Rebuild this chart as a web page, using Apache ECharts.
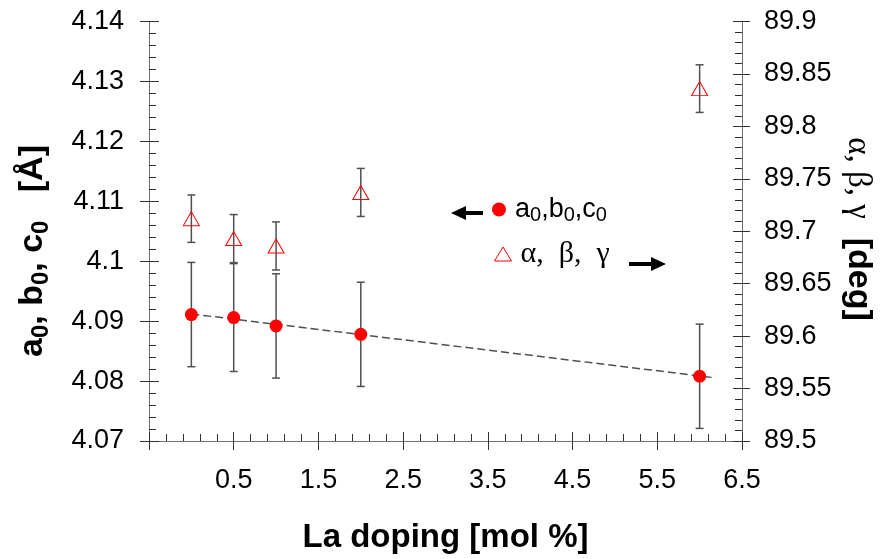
<!DOCTYPE html>
<html>
<head>
<meta charset="utf-8">
<script src="https://cdn.jsdelivr.net/npm/echarts@6/dist/echarts.min.js"></script>
<style>
  html, body { margin: 0; padding: 0; background: #ffffff; }
  #chart { width: 886px; height: 559px; }
</style>
</head>
<body>
<div id="chart"></div>
<script>
// La doping level (mol %)
const laDoping = [0, 0.5, 1, 2, 6];
// Lattice parameter a0 = b0 = c0 (Å) and its error
const latticeA = [4.0911, 4.0906, 4.0892, 4.0878, 4.0808];
const latticeErr = [0.0087, 0.0090, 0.0087, 0.0087, 0.0087];
// Cell angle α = β = γ (deg) and its error
const cellAngle = [89.712, 89.693, 89.686, 89.737, 89.836];
const angleErr = [0.0226, 0.0229, 0.0229, 0.0229, 0.0227];
// Linear trend of the lattice parameter (end points)
const trendX = [0, 6.15];
const trendY = [4.0912, 4.0806];
// Axis ticks and labels
const xTickValues = [-0.5, 0.5, 1.5, 2.5, 3.5, 4.5, 5.5, 6.5];
const xLabelValues = [0.5, 1.5, 2.5, 3.5, 4.5, 5.5, 6.5];
const leftRange = [4.07, 4.14];
const rightRange = [89.5, 89.9];

// minor x ticks: five divisions between neighbouring major ticks
const xMinorValues = [];
for (let i = 0; i < xTickValues.length - 1; i++) {
  const a = xTickValues[i], step = (xTickValues[i + 1] - a) / 5;
  for (let k = 1; k < 5; k++) xMinorValues.push(+(a + k * step).toFixed(3));
}

const SANS = 'Liberation Sans, Arial, sans-serif';
const SERIF = 'Liberation Serif, Times New Roman, serif';
const AXIS_LINE = '#707070';
const TICK = '#303030';
const BAR = '#505050';

function errorBars(params, api) {
  const x = api.value(0);
  const lo = api.coord([x, api.value(1)]);
  const hi = api.coord([x, api.value(2)]);
  const hw = 4;
  const style = { stroke: BAR, lineWidth: 1.5 };
  return {
    type: 'group',
    children: [
      { type: 'line', shape: { x1: hi[0], y1: hi[1], x2: lo[0], y2: lo[1] }, style },
      { type: 'line', shape: { x1: hi[0] - hw, y1: hi[1], x2: hi[0] + hw, y2: hi[1] }, style },
      { type: 'line', shape: { x1: lo[0] - hw, y1: lo[1], x2: lo[0] + hw, y2: lo[1] }, style }
    ]
  };
}

const baseX = { type: 'value', gridIndex: 0, min: -0.5, max: 6.5, position: 'bottom',
  axisLine: { onZero: false, show: false }, splitLine: { show: false }, axisLabel: { show: false } };

const chart = echarts.init(document.getElementById('chart'), null, { renderer: 'canvas' });
chart.setOption({
  animation: false,
  backgroundColor: '#ffffff',
  grid: { left: 149, top: 21.5, width: 593, height: 420, containLabel: false },
  xAxis: [
    Object.assign({}, baseX, {
      axisLine: { show: true, onZero: false, lineStyle: { color: AXIS_LINE, width: 1 } },
      axisTick: { show: true, inside: true, length: 9, customValues: xTickValues, lineStyle: { color: TICK } },
      axisLabel: { show: true, customValues: xLabelValues, fontSize: 27, fontFamily: SANS, color: '#000', margin: 26 },
      name: 'La doping [mol %]', nameLocation: 'middle', nameGap: 80,
      nameTextStyle: { fontSize: 33, fontWeight: 'bold', fontFamily: SANS, color: '#000' }
    }),
    Object.assign({}, baseX, {
      axisTick: { show: true, inside: true, length: 7, customValues: xMinorValues, lineStyle: { color: TICK } }
    }),
    Object.assign({}, baseX, {
      axisTick: { show: true, inside: false, length: 9, customValues: xTickValues, lineStyle: { color: TICK } }
    })
  ],
  yAxis: [
    { type: 'value', position: 'left', min: leftRange[0], max: leftRange[1], interval: 0.01,
      axisLine: { show: true, onZero: false, lineStyle: { color: AXIS_LINE } },
      axisTick: { show: true, inside: true, length: 10, lineStyle: { color: TICK } },
      minorTick: { show: true, splitNumber: 5, length: 7, lineStyle: { color: TICK } },
      axisLabel: { fontSize: 27, fontFamily: SANS, color: '#000', margin: 25 },
      splitLine: { show: false } },
    { type: 'value', position: 'right', min: rightRange[0], max: rightRange[1], interval: 0.05,
      axisLine: { show: true, onZero: false, lineStyle: { color: AXIS_LINE } },
      axisTick: { show: true, inside: true, length: 9, lineStyle: { color: TICK } },
      minorTick: { show: true, splitNumber: 5, length: 7, lineStyle: { color: TICK } },
      axisLabel: { fontSize: 27, fontFamily: SANS, color: '#000', margin: 22 },
      splitLine: { show: false } },
    { type: 'value', position: 'left', min: leftRange[0], max: leftRange[1], interval: 0.01,
      axisLine: { show: false, onZero: false },
      axisTick: { show: true, inside: false, length: 9, lineStyle: { color: TICK } },
      axisLabel: { show: false }, splitLine: { show: false } },
    { type: 'value', position: 'right', min: rightRange[0], max: rightRange[1], interval: 0.05,
      axisLine: { show: false, onZero: false },
      axisTick: { show: true, inside: false, length: 8, lineStyle: { color: TICK } },
      axisLabel: { show: false }, splitLine: { show: false } }
  ],
  legend: [
    { selectedMode: false, left: 492, top: 196, itemWidth: 14, itemHeight: 14, padding: 0,
      data: [{ name: 'a0,b0,c0', icon: 'circle', itemStyle: { color: '#ff0000', opacity: 1 } }],
      formatter: () => '{n|a}{s|0}{n|,b}{s|0}{n|,c}{s|0}',
      textStyle: { padding: [0, 0, 0, 4], rich: {
        n: { fontSize: 27, fontFamily: SANS, color: '#000', lineHeight: 32 },
        s: { fontSize: 20, fontFamily: SANS, color: '#000', lineHeight: 15, verticalAlign: 'bottom' }
      } } },
    { selectedMode: false, left: 492, top: 239, itemWidth: 17, itemHeight: 14, padding: 0,
      data: [{ name: 'α,  β,  γ', icon: 'triangle',
        itemStyle: { color: 'none', borderColor: '#ff0000', borderWidth: 1, opacity: 1 } }],
      textStyle: { fontSize: 30, fontFamily: SERIF, color: '#000', padding: [0, 0, 0, 4] } }
  ],
  graphic: [
    // arrow pointing to the left axis
    { type: 'polygon', shape: { points: [[451, 213], [466, 206], [466, 220]] }, style: { fill: '#000' } },
    { type: 'rect', shape: { x: 465, y: 211, width: 18, height: 4 }, style: { fill: '#000' } },
    // arrow pointing to the right axis
    { type: 'rect', shape: { x: 629, y: 262, width: 23, height: 4 }, style: { fill: '#000' } },
    { type: 'polygon', shape: { points: [[666, 264], [651, 257], [651, 271]] }, style: { fill: '#000' } },
    // left axis title
    { type: 'text', x: 33, y: 251, rotation: Math.PI / 2,
      style: { text: '{m|a}{s|0}{m|, b}{s|0}{m|, c}{s|0}{m|   [Å]}', align: 'center', verticalAlign: 'middle',
        rich: {
          m: { fontSize: 34, fontWeight: 'bold', fontFamily: SANS, fill: '#000', lineHeight: 40 },
          s: { fontSize: 24, fontWeight: 'bold', fontFamily: SANS, fill: '#000', lineHeight: 20, verticalAlign: 'bottom' }
        } } },
    // right axis title
    { type: 'text', x: 858, y: 229, rotation: -Math.PI / 2,
      style: { text: '{g|α, β, γ}{d|  [deg]}', align: 'center', verticalAlign: 'middle',
        rich: {
          g: { fontSize: 33, fontFamily: SERIF, fill: '#000' },
          d: { fontSize: 34, fontWeight: 'bold', fontFamily: SANS, fill: '#000' }
        } } }
  ],
  series: [
    { type: 'line', name: 'trend', xAxisIndex: 0, yAxisIndex: 0, silent: true,
      data: trendX.map((x, i) => [x, trendY[i]]), symbol: 'none', z: 2,
      lineStyle: { color: '#505050', width: 1.5, type: [8, 4] } },
    { type: 'custom', name: 'a-err', xAxisIndex: 0, yAxisIndex: 0, silent: true, z: 3,
      renderItem: errorBars, encode: { x: 0, y: [1, 2] },
      data: laDoping.map((x, i) => [x, latticeA[i] - latticeErr[i], latticeA[i] + latticeErr[i]]) },
    { type: 'scatter', name: 'a0,b0,c0', xAxisIndex: 0, yAxisIndex: 0, z: 4,
      symbol: 'circle', symbolSize: 13, itemStyle: { color: '#ff0000', opacity: 1 },
      emphasis: { disabled: true },
      data: laDoping.map((x, i) => [x, latticeA[i]]) },
    { type: 'custom', name: 'ang-err', xAxisIndex: 0, yAxisIndex: 1, silent: true, z: 3,
      renderItem: errorBars, encode: { x: 0, y: [1, 2] },
      data: laDoping.map((x, i) => [x, cellAngle[i] - angleErr[i], cellAngle[i] + angleErr[i]]) },
    { type: 'scatter', name: 'α,  β,  γ', xAxisIndex: 0, yAxisIndex: 1, z: 4,
      symbol: 'triangle', symbolSize: [16, 14],
      itemStyle: { color: 'rgba(255,255,255,0)', borderColor: '#ff0000', borderWidth: 1, opacity: 1 },
      emphasis: { disabled: true },
      data: laDoping.map((x, i) => [x, cellAngle[i]]) }
  ]
});
</script>
</body>
</html>
